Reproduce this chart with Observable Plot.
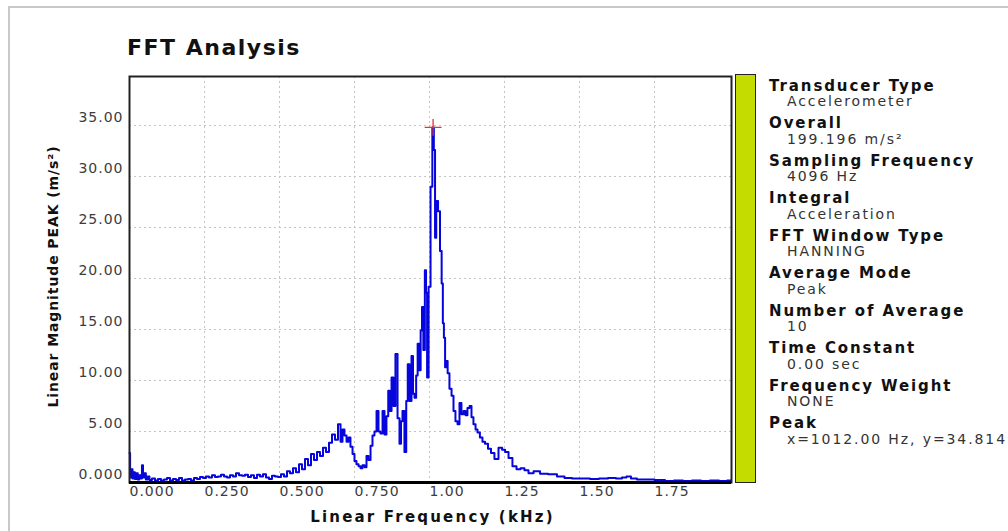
<!DOCTYPE html>
<html><head><meta charset="utf-8">
<script src="https://cdn.jsdelivr.net/npm/d3@7"></script>
<script src="https://cdn.jsdelivr.net/npm/@observablehq/plot@0.6"></script>
<style>
html,body{margin:0;padding:0;background:#fff;width:1008px;height:531px;overflow:hidden;font-family:"DejaVu Sans",Verdana,sans-serif}
#root{position:relative;width:1008px;height:531px;overflow:hidden}
#outer{position:absolute;left:8px;top:6px;width:1200px;height:700px;border:2px solid #c8c8c8}
#title{position:absolute;left:127px;top:36px;font-size:22px;font-weight:bold;letter-spacing:1.5px;line-height:24px;color:#111;white-space:nowrap}
#chart{position:absolute;left:0;top:60px}
#bar{position:absolute;left:735px;top:74px;width:19px;height:407px;background:#c5dc00;border:1px solid #222}
.h{position:absolute;left:769px;font-size:15px;font-weight:bold;letter-spacing:1.9px;line-height:16px;white-space:nowrap;color:#111}
.v{position:absolute;left:787px;font-size:14px;letter-spacing:1.9px;line-height:16px;white-space:nowrap;color:#333}
#chart svg g[aria-label="x-axis tick label"] text,#chart svg g[aria-label="y-axis tick label"] text{letter-spacing:1px}
</style></head>
<body>
<div id="root">
  <div id="outer"></div>
  <div id="title">FFT Analysis</div>
  <div id="chart"></div>
  <div id="bar"></div>
</div>
<script>
// ---- Data (frequency in Hz, linear magnitude in m/s²) ----
const freqLow = [0,4,8,12,16,20,25,30,35,40,
  43,47,52,57,63,70,80,90,100,110,
  120,130,140,150,160,170,180,190,200,210,
  220,230,240,250,260,270,280,290,300,310,
  320,330,340,350,360,370,380,390,400,410,
  420,430,440,450,460,470,480,490];
const magLow = [2.9,0.5,1.3,0.4,1.0,0.35,0.9,0.3,0.7,0.4,
  1.7,0.5,0.9,0.3,0.6,0.25,0.4,0.2,0.35,0.2,
  0.3,0.45,0.2,0.35,0.25,0.45,0.2,0.3,0.35,0.2,
  0.45,0.35,0.55,0.45,0.6,0.5,0.7,0.55,0.6,0.75,
  0.6,0.5,0.7,0.6,0.9,0.7,0.65,0.75,0.55,0.7,
  0.45,0.75,0.6,0.8,0.5,0.35,0.65,0.6];
const freqRise = [500,510,520,530,540,550,560,570,580,590,
  600,610,620,630,640,650,660,670,680,690,
  700,707,713,720,727,733,740,747,753,760,
  767,773,780,787,793,800,807,813,820,827,
  833,840,847,853,860,865,870,877,883,890,
  897,903,907,913,920,925,930,937,943,947,
  953,958,963,968,973,977,982,987,990,994];
const magRise = [0.55,0.8,0.6,1.1,0.9,1.4,1.0,1.8,1.3,2.3,
  1.7,2.8,2.2,3.0,2.6,3.4,3.0,3.9,4.7,4.2,
  5.7,4.0,5.2,4.6,4.0,4.4,3.5,2.8,2.1,1.8,
  1.6,1.4,1.7,1.5,2.6,2.2,3.6,4.6,5.0,7.0,
  5.0,4.8,7.0,4.7,6.5,9.0,7.0,10.3,7.5,12.6,
  6.3,3.8,6.0,7.0,3.0,8.0,11.6,8.0,12.4,8.7,
  8.3,10.5,13.6,11.0,14.9,17.2,13.0,20.8,18.6,10.3];
const freqPeak = [1000,1007,1012,1017,1020,1025,1032,1038,1043,1046,
  1050,1054,1058,1063,1070,1077,1083,1090,1097,1103,
  1110,1117,1123,1130,1137,1143,1150,1157,1163,1173,
  1180,1190,1200,1210,1223,1237,1247,1257,1270,1283,
  1297,1310,1323,1337,1357,1380];
const magPeak = [19.2,29.0,34.8,32.6,24.0,27.6,26.6,22.7,19.5,15.6,
  14.2,11.3,11.9,10.7,9.2,8.5,7.0,6.0,5.7,7.8,
  6.7,7.0,6.6,7.3,7.5,6.4,5.7,5.2,4.9,4.4,
  4.0,3.8,3.3,2.9,2.3,3.4,3.2,3.0,2.4,1.6,
  1.3,1.4,1.2,0.9,1.1,0.85];
const freqTail = [1410,1440,1460,1490,1520,1550,1580,1610,1633,1650,
  1663,1680,1703,1730,1770,1800,1830,1860,1890,1920,
  1950,1980,2005];
const magTail = [0.8,0.6,0.45,0.4,0.4,0.35,0.4,0.45,0.4,0.5,
  0.6,0.4,0.3,0.3,0.25,0.15,0.2,0.15,0.2,0.15,
  0.2,0.15,0.2];

const peakHz = 1012, peakValue = 34.814;

const xTicks = [0, 0.25, 0.5, 0.75, 1.0, 1.25, 1.5, 1.75];      // kHz
const yTicks = [0, 5, 10, 15, 20, 25, 30, 35];

const xTitle = "Linear Frequency (kHz)";
const yTitle = "Linear Magnitude PEAK (m/s²)";

const infoLabels = ["Transducer Type","Overall","Sampling Frequency","Integral","FFT Window Type",
  "Average Mode","Number of Average","Time Constant","Frequency Weight","Peak"];
const infoValues = ["Accelerometer","199.196 m/s²","4096 Hz","Acceleration","HANNING",
  "Peak","10","0.00 sec","NONE","x=1012.00 Hz, y=34.814"];

// ---- Build table ----
const freqAll = [...freqLow, ...freqRise, ...freqPeak, ...freqTail];
const magAll = [...magLow, ...magRise, ...magPeak, ...magTail];
const spectrum = freqAll.map((f, i) => ({kHz: f / 1000, mag: magAll[i]}));

const xFmt = v => v < 1 ? v.toFixed(3) : v.toFixed(2);
const yFmt = v => v === 0 ? "0.000" : v.toFixed(2);

const chart = Plot.plot({
  width: 760, height: 471,
  marginTop: 16, marginBottom: 49, marginLeft: 129, marginRight: 29,
  style: {fontFamily: "DejaVu Sans, Verdana, sans-serif", fontSize: "14px", color: "#3c3c3c", background: "transparent", overflow: "visible"},
  x: {domain: [0, 2.0067]},
  y: {domain: [0, 39.8]},
  marks: [
    Plot.gridX(xTicks.slice(1), {stroke: "#c4c4c4", strokeOpacity: 1, strokeDasharray: "2,3"}),
    Plot.gridY(yTicks.slice(1), {stroke: "#c4c4c4", strokeOpacity: 1, strokeDasharray: "2,3"}),
    Plot.line(spectrum, {x: "kHz", y: "mag", stroke: "#0505dc", strokeWidth: 2, curve: "step"}),
    Plot.dot([{kHz: peakHz / 1000, mag: peakValue}], {x: "kHz", y: "mag", symbol: "plus", r: 5.5, stroke: "#e8322a", strokeWidth: 1.3}),
    Plot.frame({stroke: "#222", strokeWidth: 2}),
    Plot.ruleY([0], {stroke: "#000", strokeWidth: 3}),
    Plot.axisX(xTicks, {tickSize: 0, tickPadding: 4, textAnchor: "start", tickFormat: xFmt, label: null, fill: "#3c3c3c"}),
    Plot.axisY(yTicks, {tickSize: 0, tickPadding: 6, dy: -8, tickFormat: yFmt, label: null, fill: "#3c3c3c"}),
    Plot.text([xTitle], {text: d => d, frameAnchor: "bottom", textAnchor: "middle", lineAnchor: "middle", dx: 2, dy: 35, fontWeight: "bold", fontSize: 15, fill: "#111"}),
    Plot.text([yTitle], {text: d => d, frameAnchor: "left", textAnchor: "middle", lineAnchor: "middle", dx: -76, dy: -3, rotate: -90, fontWeight: "bold", fontSize: 14, fill: "#111"})
  ]
});
d3.select(chart).selectAll("text").filter(function() { return this.textContent === xTitle; }).style("letter-spacing", "2.2px");
d3.select(chart).selectAll("text").filter(function() { return this.textContent === yTitle; }).style("letter-spacing", "0.9px");
document.getElementById("chart").appendChild(chart);

// ---- Info panel ----
const root = document.getElementById("root");
infoLabels.forEach((lab, i) => {
  const h = document.createElement("div");
  h.className = "h"; h.textContent = lab;
  h.style.top = (77.6 + 37.5 * i) + "px";
  root.appendChild(h);
  const v = document.createElement("div");
  v.className = "v"; v.textContent = infoValues[i];
  v.style.top = (93.3 + 37.5 * i) + "px";
  root.appendChild(v);
});
</script>
</body></html>
